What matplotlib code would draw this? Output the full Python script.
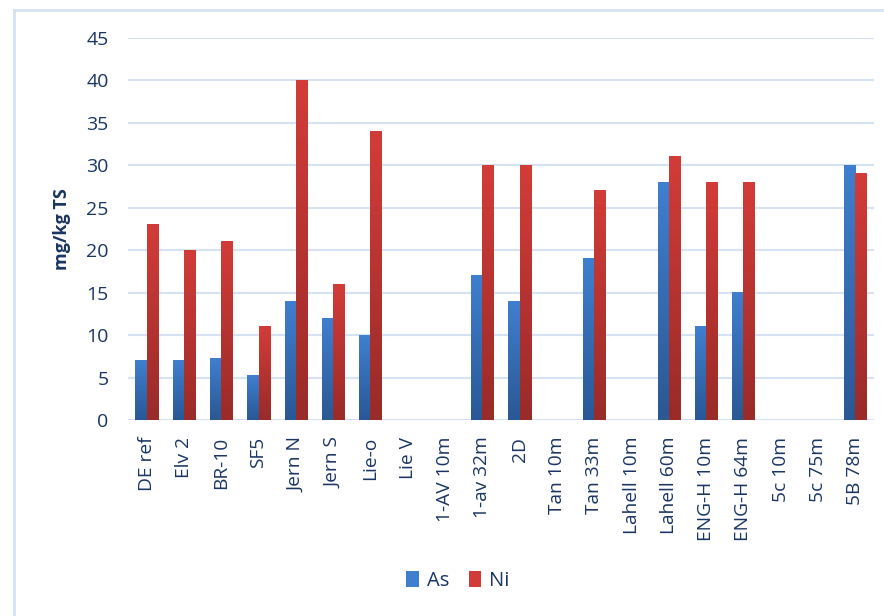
import numpy as np
import matplotlib
matplotlib.use("Agg")
import matplotlib.pyplot as plt
from matplotlib.colors import LinearSegmentedColormap
from matplotlib.patches import Rectangle
from matplotlib.lines import Line2D

categories = ["DE ref", "Elv 2", "BR-10", "SF5", "Jern N", "Jern S", "Lie-o", "Lie V",
              "1-AV 10m", "1-av 32m", "2D", "Tan 10m", "Tan 33m", "Lahell 10m",
              "Lahell 60m", "ENG-H 10m", "ENG-H 64m", "5c 10m", "5c 75m", "5B 78m"]
as_values = [7, 7, 7.2, 5.3, 14, 12, 10, 0, 0, 17, 14, 0, 19, 0, 28, 11, 15, 0, 0, 30]
ni_values = [23, 20, 21, 11, 40, 16, 34, 0, 0, 30, 30, 0, 27, 0, 31, 28, 28, 0, 0, 29]
y_ticks = [0, 5, 10, 15, 20, 25, 30, 35, 40, 45]

text_color = "#1B3563"
grid_color = "#D5E2F3"
as_top, as_bottom = "#3F7FCF", "#2A5894"
ni_top, ni_bottom = "#D23C38", "#992B29"

plt.rcParams["font.family"] = ["Open Sans", "DejaVu Sans"]

fig = plt.figure(figsize=(8.84, 6.16), dpi=100)
ax = fig.add_axes([128 / 884, 1 - 420 / 616, (874 - 128) / 884, (420 - 38) / 616])

x = np.arange(len(categories))
bar_w = 0.3

def gradient_bar(ax, x0, h, w, c_top, c_bottom):
    if h <= 0:
        return
    cmap = LinearSegmentedColormap.from_list("g", [c_bottom, c_top])
    grad = np.linspace(0, 1, 64).reshape(-1, 1)
    ax.imshow(grad, cmap=cmap, origin="lower", aspect="auto",
              extent=(x0, x0 + w, 0, h), zorder=3, interpolation="bilinear")

for i in x:
    gradient_bar(ax, i - bar_w, as_values[i], bar_w, as_top, as_bottom)
    gradient_bar(ax, i, ni_values[i], bar_w, ni_top, ni_bottom)

ax.set_xlim(-0.5, len(categories) - 0.5)
ax.set_ylim(0, 45)
ax.set_yticks(y_ticks)
ax.set_yticklabels([str(v) for v in y_ticks], fontsize=14, color=text_color)
ax.set_xticks(x)
ax.set_xticklabels(categories, rotation=90, fontsize=13.8, color=text_color)
ax.tick_params(axis="both", length=0)
ax.tick_params(axis="y", pad=14)
ax.tick_params(axis="x", pad=12)

for v in y_ticks:
    ax.axhline(v, color=grid_color, lw=1.5, zorder=1)
for s in ax.spines.values():
    s.set_visible(False)

ax.set_ylabel("mg/kg TS", fontsize=13, fontweight="bold", color=text_color)
ax.yaxis.set_label_coords((71 - 128) / 746, 0.5)

# legend
handles = [Rectangle((0, 0), 1, 1, facecolor=as_top, edgecolor="none"),
           Rectangle((0, 0), 1, 1, facecolor=ni_top, edgecolor="none")]
fig.legend(handles, ["As", "Ni"], loc="center", bbox_to_anchor=(458 / 884, 1 - 581 / 616),
           ncol=2, frameon=False, fontsize=14.5, handlelength=0.6, handleheight=0.8,
           handletextpad=0.4, columnspacing=1.0, labelcolor=text_color)

# chart frame
fig.add_artist(Line2D([14 / 884, 14 / 884], [0, 1 - 10 / 616], transform=fig.transFigure,
                      color=grid_color, lw=2))
fig.add_artist(Line2D([14 / 884, 1], [1 - 10 / 616, 1 - 10 / 616], transform=fig.transFigure,
                      color=grid_color, lw=2))

fig.savefig("out.png", dpi=100)
